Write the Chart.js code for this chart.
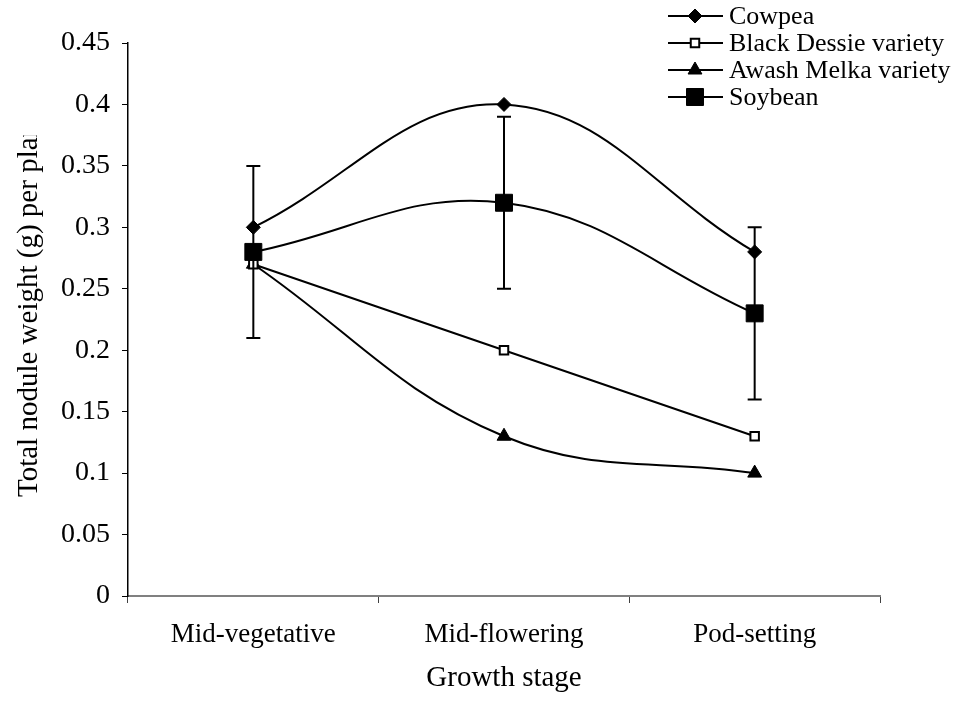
<!DOCTYPE html>
<html>
<head>
<meta charset="utf-8">
<script src="https://cdn.jsdelivr.net/npm/chart.js@4.4.1/dist/chart.umd.min.js"></script>
<style>
  html, body { margin: 0; padding: 0; background: #fff; }
  #wrap { width: 971px; height: 716px; position: relative; }
</style>
</head>
<body>
<div id="wrap"><canvas id="mainChart" width="971" height="716"></canvas></div>
<script>
// Data
const stages = ['Mid-vegetative', 'Mid-flowering', 'Pod-setting'];
const cowpea = [0.30, 0.40, 0.28];
const blackDessie = [0.27, 0.20, 0.13];
const awashMelka = [0.27, 0.13, 0.10];
const soybean = [0.28, 0.32, 0.23];
const soybeanErr = [0.07, 0.07, 0.07];
const yTickLabels = ['0', '0.05', '0.1', '0.15', '0.2', '0.25', '0.3', '0.35', '0.4', '0.45'];

const FONT = "'Liberation Serif', 'Times New Roman', serif";

// vertical error bars on the soybean series
const errorBars = {
  id: 'errorBars',
  afterDatasetsDraw(chart) {
    const ds = chart.data.datasets.findIndex(d => d.label === 'Soybean');
    const meta = chart.getDatasetMeta(ds);
    const y = chart.scales.y;
    const ctx = chart.ctx;
    ctx.save();
    ctx.strokeStyle = '#000';
    ctx.lineWidth = 2;
    meta.data.forEach((pt, i) => {
      const v = soybean[i], e = soybeanErr[i];
      const top = y.getPixelForValue(v + e);
      const bot = y.getPixelForValue(v - e);
      ctx.beginPath();
      ctx.moveTo(pt.x, top); ctx.lineTo(pt.x, bot);
      ctx.moveTo(pt.x - 7, top); ctx.lineTo(pt.x + 7, top);
      ctx.moveTo(pt.x - 7, bot); ctx.lineTo(pt.x + 7, bot);
      ctx.stroke();
    });
    ctx.restore();
  }
};

// y-axis title; the original is cut off after "pla"
const yTitle = {
  id: 'yTitle',
  afterDraw(chart) {
    const ctx = chart.ctx;
    const text = 'Total nodule weight (g) per plant';
    const start = 497;
    ctx.save();
    ctx.font = '29px ' + FONT;
    const keep = ctx.measureText('Total nodule weight (g) per pla').width;
    ctx.beginPath();
    ctx.rect(0, start - keep - 2, 70, keep + 220);
    ctx.clip();
    ctx.translate(29, start);
    ctx.rotate(-Math.PI / 2);
    ctx.fillStyle = '#000';
    ctx.textAlign = 'left';
    ctx.textBaseline = 'middle';
    ctx.fillText(text, 0, 0);
    ctx.restore();
  }
};

// legend box at top right: line with marker, then label
const sideLegend = {
  id: 'sideLegend',
  afterDraw(chart) {
    const ctx = chart.ctx;
    ctx.save();
    chart.data.datasets.forEach((d, i) => {
      const yy = 16 + i * 27;
      ctx.strokeStyle = '#000';
      ctx.lineWidth = 2;
      ctx.beginPath();
      ctx.moveTo(668, yy); ctx.lineTo(723, yy);
      ctx.stroke();
      ctx.fillStyle = d.pointBackgroundColor;
      ctx.strokeStyle = '#000';
      ctx.lineWidth = d.pointBorderWidth;
      Chart.helpers.drawPoint(ctx, { pointStyle: d.pointStyle, radius: d.pointRadius, borderWidth: d.pointBorderWidth, rotation: 0 }, 695, yy);
      ctx.fillStyle = '#000';
      ctx.font = '26px ' + FONT;
      ctx.textAlign = 'left';
      ctx.textBaseline = 'middle';
      ctx.fillText(d.label, 729, yy + 1);
    });
    ctx.restore();
  }
};

const ctx = document.getElementById('mainChart').getContext('2d');

new Chart(ctx, {
  type: 'line',
  data: {
    labels: stages,
    datasets: [
      {
        label: 'Cowpea',
        data: cowpea,
        borderColor: '#000',
        borderWidth: 2,
        pointStyle: 'rectRot',
        pointRadius: 7,
        pointBackgroundColor: '#000',
        pointBorderColor: '#000',
        pointBorderWidth: 1
      },
      {
        label: 'Black Dessie variety',
        data: blackDessie,
        borderColor: '#000',
        borderWidth: 2,
        pointStyle: 'rect',
        pointRadius: 6,
        pointBackgroundColor: '#fff',
        pointBorderColor: '#000',
        pointBorderWidth: 2
      },
      {
        label: 'Awash Melka variety',
        data: awashMelka,
        borderColor: '#000',
        borderWidth: 2,
        pointStyle: 'triangle',
        pointRadius: 8,
        pointBackgroundColor: '#000',
        pointBorderColor: '#000',
        pointBorderWidth: 1
      },
      {
        label: 'Soybean',
        data: soybean,
        borderColor: '#000',
        borderWidth: 2,
        pointStyle: 'rect',
        pointRadius: 12,
        pointBackgroundColor: '#000',
        pointBorderColor: '#000',
        pointBorderWidth: 1
      }
    ]
  },
  options: {
    responsive: false,
    animation: false,
    devicePixelRatio: 1,
    tension: 0.4,
    layout: { padding: { left: 0, right: 91, top: 43, bottom: 0 } },
    plugins: {
      legend: { display: false },
      tooltip: { enabled: false }
    },
    scales: {
      x: {
        offset: true,
        border: { color: '#808080', width: 2 },
        grid: { offset: true, drawOnChartArea: false, drawTicks: true, tickLength: 7, color: '#404040' },
        ticks: { color: '#000', font: { family: FONT, size: 27 }, padding: 16, maxRotation: 0 },
        title: { display: true, text: 'Growth stage', color: '#000', font: { family: FONT, size: 29 }, padding: { top: 0, bottom: 20 } },
        afterFit(s) { s.height = 716 - 596; }
      },
      y: {
        min: 0,
        max: 0.45,
        border: { color: '#000', width: 1.5 },
        grid: { drawOnChartArea: false, drawTicks: true, tickLength: 6, color: '#000' },
        ticks: {
          stepSize: 0.05,
          color: '#000',
          font: { family: FONT, size: 28 },
          padding: 12,
          callback: (v, i) => yTickLabels[i]
        },
        afterFit(s) { s.width = 128; }
      }
    }
  },
  plugins: [errorBars, yTitle, sideLegend]
});
</script>
</body>
</html>
